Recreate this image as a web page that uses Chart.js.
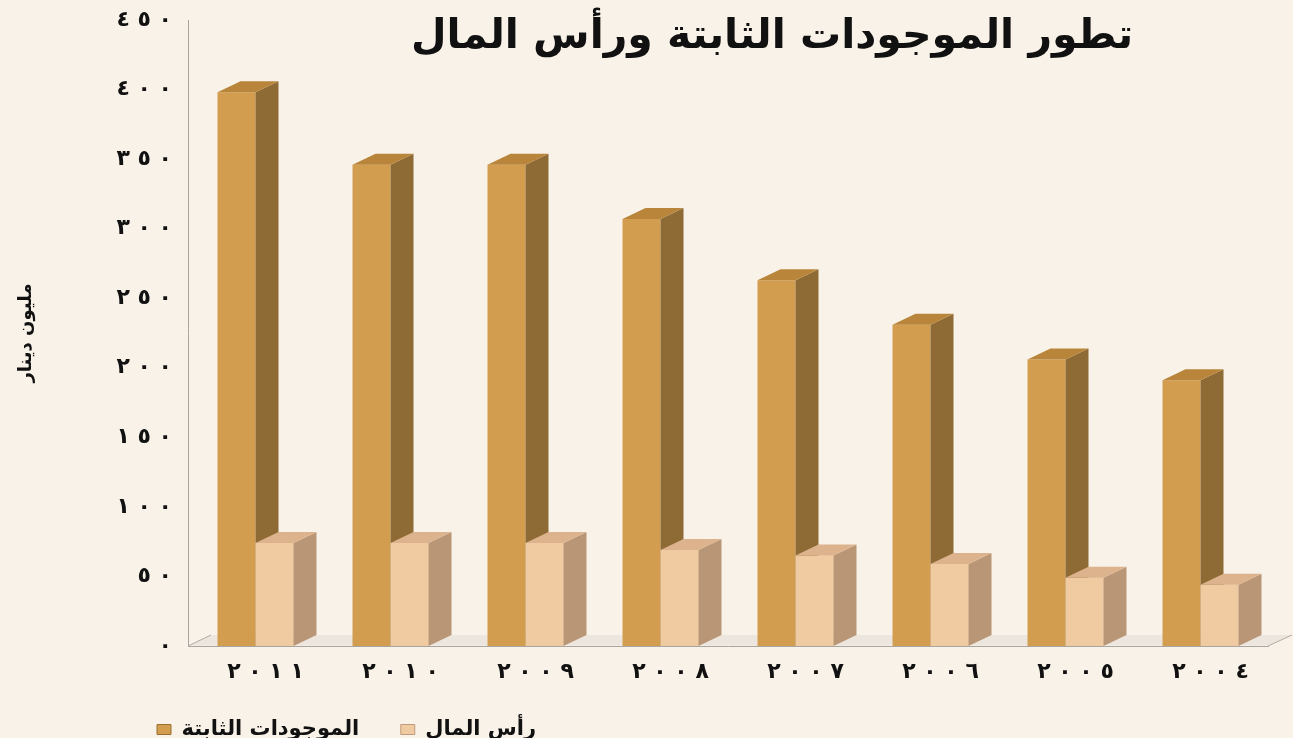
<!DOCTYPE html>
<html><head><meta charset="utf-8">
<script src="https://cdn.jsdelivr.net/npm/chart.js@4.4.1/dist/chart.umd.min.js"></script>
<style>
html,body{margin:0;padding:0;background:#F9F2E8;}
#wrap{width:1293px;height:738px;position:relative;}
</style></head><body>
<div id="wrap"><canvas id="c" width="1293" height="738"></canvas></div>
<script>
const categories = ['٢٠١١','٢٠١٠','٢٠٠٩','٢٠٠٨','٢٠٠٧','٢٠٠٦','٢٠٠٥','٢٠٠٤'];
const fixedAssets = [398, 346, 346, 307, 263, 231, 206, 191];
const capital = [74, 74, 74, 69, 65, 59, 49, 44];
const yTickLabels = ['٠','٥٠','١٠٠','١٥٠','٢٠٠','٢٥٠','٣٠٠','٣٥٠','٤٠٠','٤٥٠'];
const seriesNames = ['الموجودات الثابتة','رأس المال'];
const chartTitle = 'تطور الموجودات الثابتة ورأس المال';
const yAxisTitle = 'مليون دينار';

const FONT = "'DejaVu Sans', sans-serif";
const DX = 23, DY = -11;
const spaced = s => s.split('').join('\u200E \u200E');

const front = ['#D39D50', '#F0CBA1'];
const side = ['#8E6A35', '#B99676'];
const top_ = ['#B9853A', '#DDB38D'];

function faces(ctx, el, sideC, topC) {
  const p = el.getProps(['x','y','base','width'], true);
  const l = p.x - p.width/2, r = p.x + p.width/2, y = p.y, b = p.base;
  ctx.fillStyle = sideC;
  ctx.beginPath(); ctx.moveTo(r, y); ctx.lineTo(r+DX, y+DY); ctx.lineTo(r+DX, b+DY); ctx.lineTo(r, b); ctx.closePath(); ctx.fill();
  ctx.fillStyle = topC;
  ctx.beginPath(); ctx.moveTo(l, y); ctx.lineTo(l+DX, y+DY); ctx.lineTo(r+DX, y+DY); ctx.lineTo(r, y); ctx.closePath(); ctx.fill();
}

const bars3d = {
  id: 'bars3d',
  afterLayout(chart) {
    const lg = chart.legend;
    const h = lg.bottom - lg.top;
    lg.left = 147; lg.top = 709; lg.bottom = lg.top + h;
  },
  beforeDatasetsDraw(chart) {
    const {ctx, chartArea: a} = chart;
    ctx.save();
    ctx.fillStyle = '#ECE6DE';
    ctx.beginPath();
    ctx.moveTo(a.left, a.bottom - 0.5); ctx.lineTo(a.right, a.bottom - 0.5);
    ctx.lineTo(a.right + DX + 1, a.bottom + DY); ctx.lineTo(a.left + DX, a.bottom + DY); ctx.closePath(); ctx.fill();
    ctx.strokeStyle = '#B0AAA3'; ctx.lineWidth = 1;
    ctx.beginPath();
    ctx.moveTo(a.left, a.bottom); ctx.lineTo(a.left + DX, a.bottom + DY);
    ctx.moveTo(a.right, a.bottom); ctx.lineTo(a.right + DX + 1, a.bottom + DY);
    ctx.stroke();
    ctx.restore();
  },
  afterDatasetsDraw(chart) {
    const ctx = chart.ctx;
    ctx.save();
    const m0 = chart.getDatasetMeta(0), m1 = chart.getDatasetMeta(1);
    m0.data.forEach(el => faces(ctx, el, side[0], top_[0]));
    m1.data.forEach(el => { el.draw(ctx); faces(ctx, el, side[1], top_[1]); });
    ctx.restore();
  },
  afterDraw(chart) {
    const ctx = chart.ctx;
    ctx.save();
    ctx.font = "bold 41px " + FONT;
    ctx.fillStyle = '#111';
    ctx.textAlign = 'center'; ctx.textBaseline = 'middle';
    ctx.fillText(chartTitle, 772, 37);
    ctx.restore();
  }
};

new Chart(document.getElementById('c'), {
  type: 'bar',
  data: {
    labels: categories,
    datasets: [
      { label: seriesNames[0], data: fixedAssets, backgroundColor: front[0], borderWidth: 0 },
      { label: seriesNames[1], data: capital, backgroundColor: front[1], borderWidth: 0 }
    ]
  },
  options: {
    responsive: false,
    animation: false,
    layout: { padding: { top: 20, right: 25, bottom: 0, left: 0 } },
    datasets: { bar: { categoryPercentage: 0.563, barPercentage: 1.0 } },
    plugins: {
      tooltip: { enabled: false },
      legend: {
        position: 'bottom', align: 'start',
        labels: {
          boxWidth: 14, boxHeight: 10, padding: 10, color: '#111',
          font: { family: FONT, size: 21, weight: 'bold' },
          generateLabels(chart) {
            const items = Chart.defaults.plugins.legend.labels.generateLabels(chart);
            items.forEach((it, i) => { it.text = it.text + '\u2003\u2002'; it.strokeStyle = i === 0 ? '#9A6E2E' : '#C09A7C'; it.lineWidth = 1; });
            return items;
          }
        }
      }
    },
    scales: {
      x: {
        grid: { display: false, drawTicks: false },
        border: { display: true, color: '#A9A6A2' },
        ticks: { color: '#111', font: { family: FONT, size: 22, weight: 'bold' }, padding: 13, labelOffset: 10,
          callback: (v, i) => spaced(categories[i]) },
        afterFit: s => { s.height = 51; }
      },
      y: {
        min: 0, max: 450,
        grid: { display: false, drawTicks: false },
        border: { display: true, color: '#A9A6A2' },
        ticks: { stepSize: 50, color: '#111', padding: 16, font: { family: FONT, size: 22, weight: 'bold' },
          callback: v => spaced(yTickLabels[Math.round(v / 50)]) },
        title: { display: true, text: yAxisTitle, color: '#111', font: { family: FONT, size: 18, weight: 'bold' }, padding: { top: 16, bottom: 0 } },
        afterFit: s => { s.width = 188; s.paddingTop = 0; s.paddingBottom = 0; }
      }
    }
  },
  plugins: [bars3d]
});
</script>
</body></html>
